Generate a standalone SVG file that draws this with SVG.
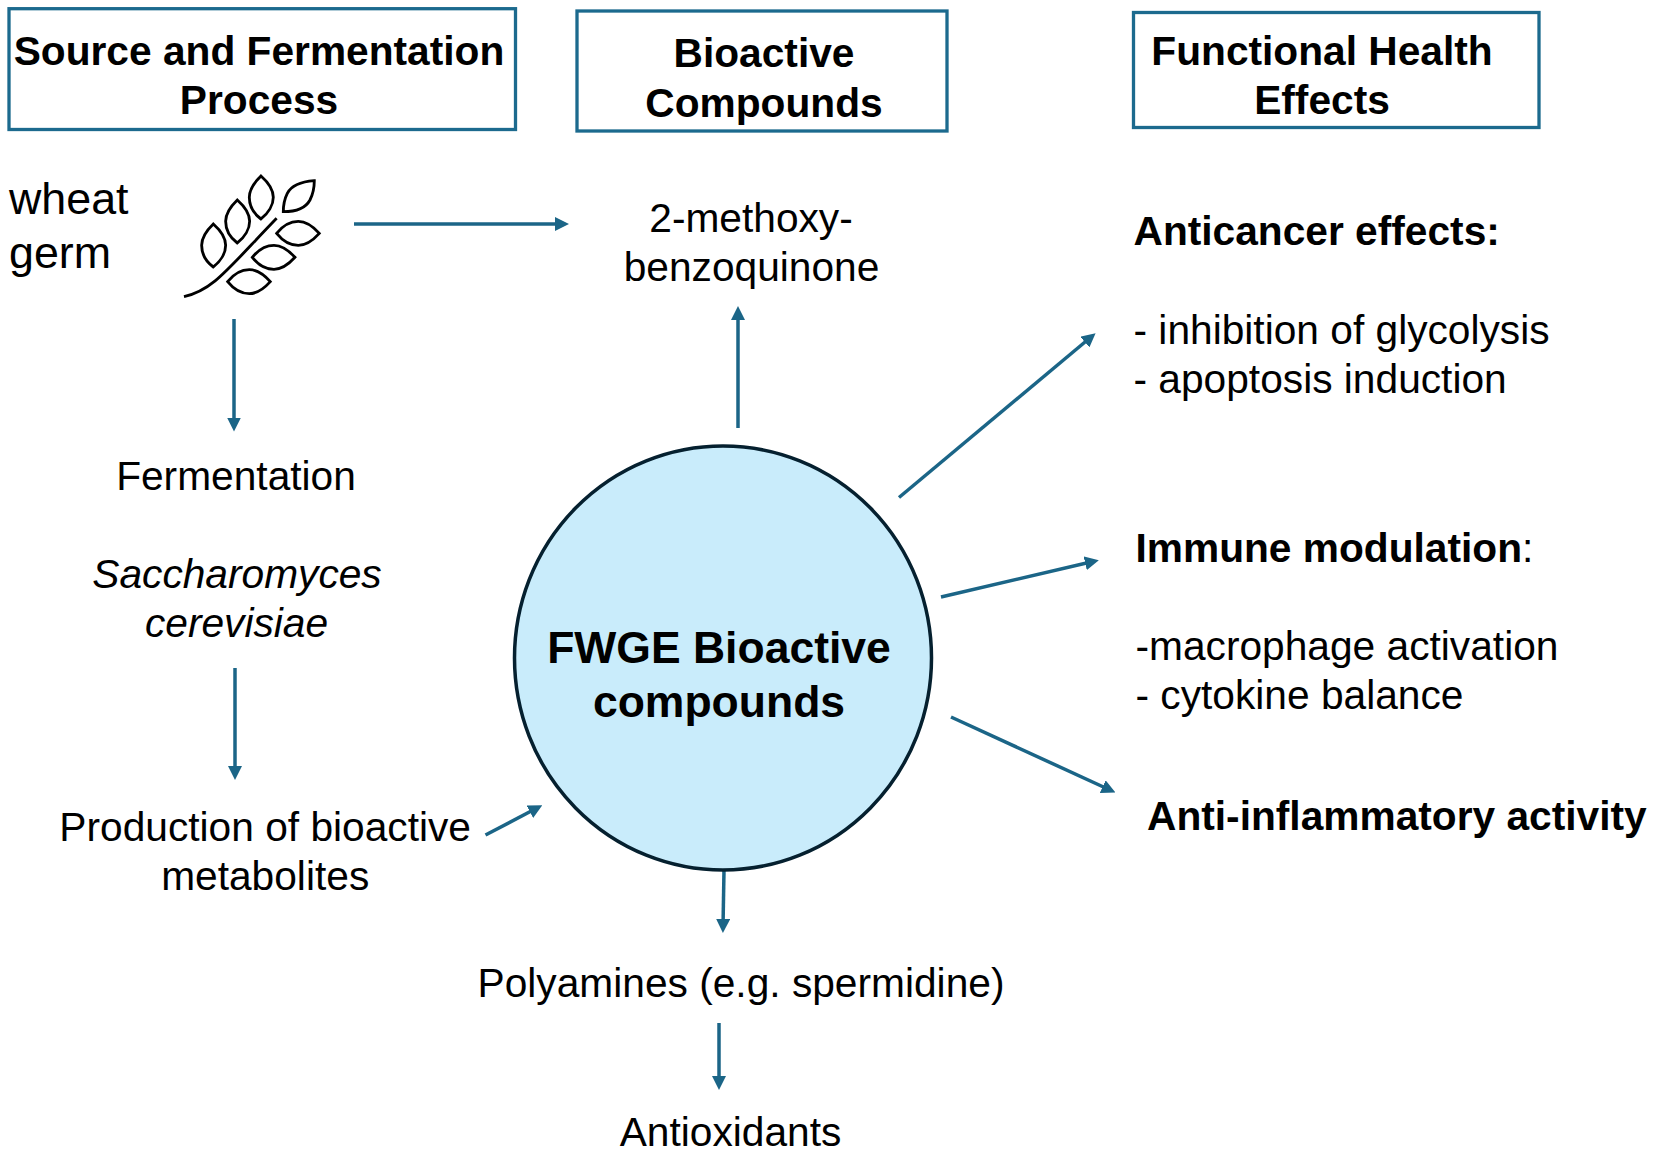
<svg xmlns="http://www.w3.org/2000/svg" width="1653" height="1153" viewBox="0 0 1653 1153">
<style>
text{font-family:"Liberation Sans",Arial,sans-serif;font-size:40.7px;fill:#000}
.b{font-weight:700}
.c{text-anchor:middle}
.i{font-style:italic}
.w{font-size:44.800px}
.f{font-size:44.500px}
.box{fill:#fff;stroke:#1c6a8e;stroke-width:3.300}
.arr{fill:none;stroke:#1b6587;stroke-width:3.500;marker-end:url(#ah)}
.leaf{fill:none;stroke:#000;stroke-width:8.500;stroke-linejoin:miter}
</style>
<defs>
<marker id="ah" markerUnits="userSpaceOnUse" markerWidth="14" markerHeight="14" refX="8" refY="7" orient="auto"><path d="M0 0L14 7L0 14Z" fill="#1b6587"/></marker>
<path id="lv" d="M0 0C25 22 37 42 37 64C37 87 22 112 0 129C-23 112-35 87-35 64C-35 42-23 22 0 0Z"/>
<path id="lh" d="M0 0C20-25 45-36 65-36C90-36 110-20 128 0C110 20 90 36 65 36C45 36 20 25 0 0Z"/>
</defs>
<rect width="1653" height="1153" fill="#fff"/>
<g id="connectors">
<path class="arr" d="M354 224H563"/>
<path class="arr" d="M234 319V425.500"/>
<path class="arr" d="M738 428V312"/>
<path class="arr" d="M235 668V774"/>
<path class="arr" d="M485.500 835L537 808"/>
<path class="arr" d="M899 497.500L1091 337"/>
<path class="arr" d="M941 597L1093 561.500"/>
<path class="arr" d="M951 717L1110 790"/>
<path class="arr" d="M724 870L723 927"/>
<path class="arr" d="M719 1023V1084"/>
</g>
<g id="header-source"><rect class="box" x="9" y="8.700" width="506.500" height="120.800"/><text class="b c" x="259" y="65">Source and Fermentation</text><text class="b c" x="259" y="114">Process</text></g>
<g id="header-compounds"><rect class="box" x="577" y="11" width="370" height="120"/><text class="b c" x="764" y="67">Bioactive</text><text class="b c" x="764" y="116.500">Compounds</text></g>
<g id="header-effects"><rect class="box" x="1133.500" y="12.500" width="405.500" height="115"/><text class="b c" x="1322" y="65">Functional Health</text><text class="b c" x="1322" y="114">Effects</text></g>
<g id="wheat-germ"><text class="w" x="9" y="213.500">wheat</text><text class="w" x="9" y="267.500">germ</text></g>
<g id="wheat-icon" transform="translate(0 150) scale(.3333)">
<path class="leaf" d="M552 440C640 420 680 360 830 205"/>
<use class="leaf" href="#lv" x="783" y="78"/>
<use class="leaf" href="#lv" x="712" y="150"/>
<use class="leaf" href="#lv" x="640" y="222"/>
<path class="leaf" d="M943 92C905 95 875 105 862 130C852 150 850 170 850 185C880 185 915 178 930 150C940 130 943 110 943 92Z"/>
<use class="leaf" href="#lh" x="830" y="250"/>
<use class="leaf" href="#lh" x="757" y="322"/>
<use class="leaf" href="#lh" x="683" y="395"/>
</g>
<g id="fermentation"><text class="c" x="236" y="490">Fermentation</text></g>
<g id="saccharomyces"><text class="c i" x="237" y="588">Saccharomyces</text><text class="c i" x="236.500" y="637">cerevisiae</text></g>
<g id="production"><text class="c" x="265.200" y="841">Production of bioactive</text><text class="c" x="265.200" y="890">metabolites</text></g>
<g id="methoxy"><text class="c" x="751" y="232">2-methoxy-</text><text class="c" x="751.500" y="280.500">benzoquinone</text></g>
<g id="fwge"><ellipse cx="723" cy="658" rx="208.500" ry="212" fill="#c9ecfb" stroke="#05202f" stroke-width="3.500"/><text class="b c f" x="719" y="662.500">FWGE Bioactive</text><text class="b c f" x="719" y="717">compounds</text></g>
<g id="polyamines"><text class="c" x="741" y="996.500">Polyamines (e.g. spermidine)</text></g>
<g id="antioxidants"><text class="c" x="730.500" y="1146">Antioxidants</text></g>
<g id="anticancer"><text class="b" x="1133.500" y="245">Anticancer effects:</text><text x="1133.500" y="344">- inhibition of glycolysis</text><text x="1133.500" y="392.500">- apoptosis induction</text></g>
<g id="immune"><text x="1135.500" y="562"><tspan class="b">Immune modulation</tspan>:</text><text x="1135.500" y="660">-macrophage activation</text><text x="1135.500" y="708.500">- cytokine balance</text></g>
<g id="antiinflammatory"><text class="b" x="1147" y="830">Anti-inflammatory activity</text></g>
</svg>
